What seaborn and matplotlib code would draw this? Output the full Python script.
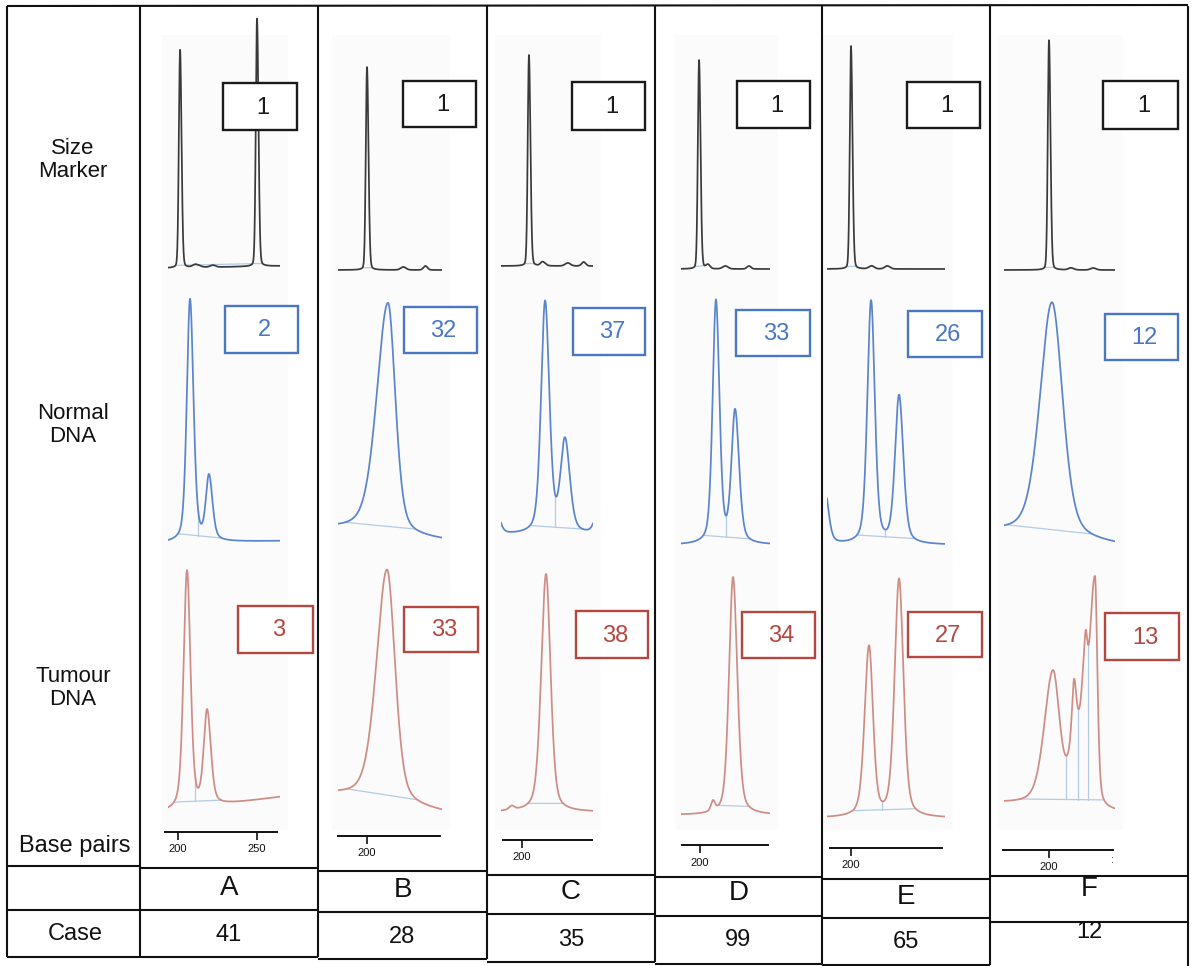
import numpy as np
import matplotlib
matplotlib.use("Agg")
import matplotlib.pyplot as plt
from matplotlib.patches import Rectangle
import seaborn as sns

# ---------------------------------------------------------------- data
lanes = ["A", "B", "C", "D", "E", "F"]
cases = ["41", "28", "35", "99", "65", "12"]
marker_labels = ["1", "1", "1", "1", "1", "1"]
normal_labels = ["2", "32", "37", "33", "26", "12"]
tumour_labels = ["3", "33", "38", "34", "27", "13"]
row_titles = ["Size\nMarker", "Normal\nDNA", "Tumour\nDNA"]

# electropherogram peaks per lane: (size in bp, height, left half-width, right half-width)
marker_peaks = [
    [(201.3, 218, 0.9, 1.1), (250.0, 248, 0.9, 1.1), (211, 3, 2, 3), (222, 2, 2, 2)],
    [(200.0, 203, 0.9, 1.1), (223, 3, 2, 2), (237, 4, 1.5, 1.5)],
    [(204.4, 211, 0.9, 1.1), (213, 4, 1.5, 2), (229, 3, 2, 2), (239, 4, 1.5, 1.5)],
    [(199.4, 209, 0.9, 1.1), (205, 4, 1.5, 1.5), (216, 3, 2, 2), (231, 3, 1.5, 1.5)],
    [(200.0, 223, 0.9, 1.1), (213, 3, 2, 2), (223, 3, 2, 2)],
    [(200.0, 230, 0.9, 1.1), (214, 2, 2, 2), (228, 2, 2, 2)],
]
normal_peaks = [
    [(207.6, 243, 2.4, 2.6), (219.6, 64, 2.3, 2.6)],
    [(213.3, 232, 8.5, 5.5)],
    [(183.0, 30, 3, 3), (214.6, 232, 3.0, 3.2), (227.2, 92, 3.3, 3.6), (249.0, 30, 3, 3)],
    [(210.1, 243, 2.5, 2.6), (222.2, 132, 2.7, 3.0)],
    [(183.0, 60, 3, 3), (212.7, 243, 2.8, 2.8), (230.4, 148, 3.0, 3.2)],
    [(201.9, 236, 9.0, 8.0)],
]
tumour_peaks = [
    [(205.7, 238, 2.6, 2.6), (218.4, 94, 2.5, 2.8)],
    [(212.7, 234, 8.0, 6.0)],
    [(193.5, 4, 2, 2), (215.2, 238, 3.6, 3.4)],
    [(208.2, 10, 1.5, 1.5), (220.9, 238, 3.0, 3.2)],
    [(211.4, 170, 3.3, 3.0), (230.4, 238, 3.3, 3.3)],
    [(202.5, 132, 6.5, 5.0), (217.0, 62, 4.5, 4.0), (215.8, 50, 1.5, 1.5),
     (223.0, 88, 2.6, 1.5), (229.1, 228, 4.5, 1.8)],
]
# baseline drift at the left / right end of each trace
marker_drift = [(0, 2), (0, 0), (0, 0), (0, 0), (0, 0), (0, 0)]
normal_drift = [(0, 2), (10, 0), (0, 0), (0, 0), (0, 0), (12, 0)]
tumour_drift = [(0, 15), (16, 0), (0, 0), (0, 0), (0, 0), (8, 0)]
# peak-window dividers (bp)
marker_dividers = [[], [], [], [], [], []]
normal_dividers = [[212.7], [], [221.0], [216.5], [221.5], []]
tumour_dividers = [[210.8], [], [], [210.1], [219.6], [210.8, 218.4, 224.6]]
bp_ticks = [[200, 250], [200], [200], [200], [200], [200]]

# ---------------------------------------------------------------- layout (pixels)
W, H = 1193, 966
col_edges = [7, 140, 318, 487, 655, 822, 990, 1188]
bp200_px = [178, 367, 522, 700, 851, 1049]
px_per_bp = 1.58
trace_x = [(168, 280), (338, 442), (501, 593), (681, 770), (827, 945), (1004, 1115)]
base_y = [
    [268, 270, 266, 269, 269, 270],
    [543, 540, 535, 545, 545, 545],
    [812, 812, 812, 815, 818, 812],
]
label_boxes = [
    [(223, 83, 297, 130), (403, 81, 476, 127), (572, 82, 645, 130),
     (737, 81, 810, 128), (907, 82, 980, 128), (1103, 81, 1178, 129)],
    [(225, 306, 298, 353), (404, 307, 477, 353), (573, 308, 645, 355),
     (736, 310, 810, 356), (908, 311, 982, 357), (1105, 314, 1178, 360)],
    [(238, 606, 313, 653), (404, 607, 478, 652), (576, 611, 648, 658),
     (742, 612, 815, 658), (908, 612, 982, 657), (1105, 613, 1179, 660)],
]
bp_axis_x = [(165, 277), (338, 440), (503, 592), (682, 768), (830, 942), (1003, 1113)]
bp_axis_y = [832, 836, 840, 845, 848, 850]
hline1 = [866, 868, 871, 875, 877, 879, 876]
hline2 = [910, 910, 912, 914, 916, 918, 922]
hline3 = [957, 957, 959, 962, 964, 965, 968]
lane_y = [888, 890, 892, 893, 897, 889]
case_y = [935, 937, 940, 940, 942, 932]

row_colors = ["#3a3a3a", "#5a84cc", "#cf8c84"]
box_colors = ["#1a1a1a", "#4a77c4", "#b4473f"]
row_eta = [0.12, 0.4, 0.4]
guide_color = "#b3cbe4"

sns.set_theme(style="white")
plt.rcParams["font.family"] = ["Liberation Sans", "DejaVu Sans"]

fig = plt.figure(figsize=(W / 100, H / 100), dpi=100)
fig.patch.set_facecolor("white")


def frac(x0, y0, x1, y1):
    return [x0 / W, 1 - y1 / H, (x1 - x0) / W, (y1 - y0) / H]


def px_to_bp(c, px):
    return 200 + (px - bp200_px[c]) / px_per_bp


def render(bp, peaks, drift, eta):
    sig = drift[0] + (drift[1] - drift[0]) * (bp - bp[0]) / (bp[-1] - bp[0])
    for pos, h, wl, wr in peaks:
        w = np.where(bp < pos, wl, wr)
        z = ((bp - pos) / w) ** 2
        sig = sig + h * ((1 - eta) * np.exp(-np.log(2) * z) + eta / (1 + z))
    return sig


# background layer: table grid and text
bg = fig.add_axes([0, 0, 1, 1], zorder=0)
bg.set_xlim(0, W)
bg.set_ylim(H, 0)
bg.axis("off")

for c in range(6):
    x0, x1 = trace_x[c]
    bg.add_patch(Rectangle((x0 - 6, 35), (x1 - x0) + 14, 795, color="#fbfbfc", lw=0, zorder=0))

grid_kw = dict(color="#111111", lw=1.5, solid_capstyle="butt", zorder=2)
bg.plot([7, 1188], [6, 5], **grid_kw)
for i, x in enumerate(col_edges):
    bottom = hline3[max(i - 1, 0)] if i < len(col_edges) - 1 else 966
    bg.plot([x, x], [6, min(bottom, 966)], **grid_kw)
for j in range(7):
    xa, xb = col_edges[j], col_edges[j + 1]
    bg.plot([xa, xb], [hline1[j], hline1[j]], **grid_kw)
    bg.plot([xa, xb], [hline2[j], hline2[j]], **grid_kw)
    if hline3[j] < H:
        bg.plot([xa, xb], [hline3[j], hline3[j]], **grid_kw)

for title, yc in zip(row_titles, [160, 425, 688]):
    bg.text(73, yc, title, ha="center", va="center", fontsize=16, color="#111111", linespacing=1.15)
bg.text(75, 846, "Base pairs", ha="center", va="center", fontsize=17, color="#111111")
bg.text(75, 934, "Case", ha="center", va="center", fontsize=17, color="#111111")
for c in range(6):
    xc = (col_edges[c + 1] + col_edges[c + 2]) / 2
    bg.text(xc, lane_y[c], lanes[c], ha="center", va="center", fontsize=20, color="#111111")
    bg.text(xc, case_y[c], cases[c], ha="center", va="center", fontsize=17, color="#111111")
bg.text(1112, 860, ":", ha="center", va="center", fontsize=8, color="#222222")

# electropherogram traces
rows = [
    (marker_peaks, marker_drift, marker_dividers),
    (normal_peaks, normal_drift, normal_dividers),
    (tumour_peaks, tumour_drift, tumour_dividers),
]
for r, (peaks_row, drift_row, div_row) in enumerate(rows):
    for c in range(6):
        x0, x1 = trace_x[c]
        yb = base_y[r][c]
        ax = fig.add_axes(frac(x0, yb - 275, x1, yb + 8), zorder=1)
        ax.set_facecolor("none")
        lo, hi = px_to_bp(c, x0), px_to_bp(c, x1)
        bp = np.linspace(lo, hi, 900)
        sig = render(bp, peaks_row[c], drift_row[c], row_eta[r])

        # integration window: spans every sizeable peak inside the trace
        main = [p for p in peaks_row[c] if p[1] > 40 and lo < p[0] < hi]
        g0 = max(lo, min(p[0] - 3.2 * p[2] for p in main))
        g1 = min(hi, max(p[0] + 3.2 * p[3] for p in main))
        s0, s1 = np.interp([g0, g1], bp, sig)
        ax.plot([g0, g1], [s0, s1], color=guide_color, lw=0.9, zorder=1)
        for d in div_row[c]:
            yline = s0 + (s1 - s0) * (d - g0) / (g1 - g0)
            ax.plot([d, d], [yline, np.interp(d, bp, sig)], color=guide_color, lw=0.9, zorder=1)

        sns.lineplot(x=bp, y=sig, ax=ax, color=row_colors[r], lw=1.25,
                     estimator=None, sort=False, zorder=2)
        ax.set_xlim(lo, hi)
        ax.set_ylim(-8, 275)
        ax.axis("off")

# base-pair axes under each lane
for c in range(6):
    a0, a1 = bp_axis_x[c]
    ya = bp_axis_y[c]
    axb = fig.add_axes(frac(a0, ya - 1, a1, ya), zorder=1)
    axb.set_facecolor("none")
    axb.set_xlim(px_to_bp(c, a0), px_to_bp(c, a1))
    axb.set_ylim(0, 1)
    for s in ["top", "left", "right"]:
        axb.spines[s].set_visible(False)
    axb.spines["bottom"].set_color("#111111")
    axb.spines["bottom"].set_linewidth(1.4)
    axb.set_yticks([])
    axb.set_xticks(bp_ticks[c])
    axb.set_xticklabels([str(t) for t in bp_ticks[c]])
    axb.tick_params(axis="x", direction="out", length=6, width=1.2, color="#111111",
                    labelsize=8, pad=3, bottom=True, labelcolor="#111111")

# sample id boxes on top
top = fig.add_axes([0, 0, 1, 1], zorder=3)
top.set_facecolor("none")
top.set_xlim(0, W)
top.set_ylim(H, 0)
top.axis("off")
for r, labels in enumerate([marker_labels, normal_labels, tumour_labels]):
    for c in range(6):
        x0, y0, x1, y1 = label_boxes[r][c]
        top.add_patch(Rectangle((x0, y0), x1 - x0, y1 - y0, facecolor="white",
                                edgecolor=box_colors[r], lw=1.7, zorder=3))
        top.text((x0 + x1) / 2 + 3, (y0 + y1) / 2 + 1, labels[c], ha="center", va="center",
                 fontsize=17, color=box_colors[r], zorder=4)

fig.savefig("out.png", dpi=100, facecolor="white")
